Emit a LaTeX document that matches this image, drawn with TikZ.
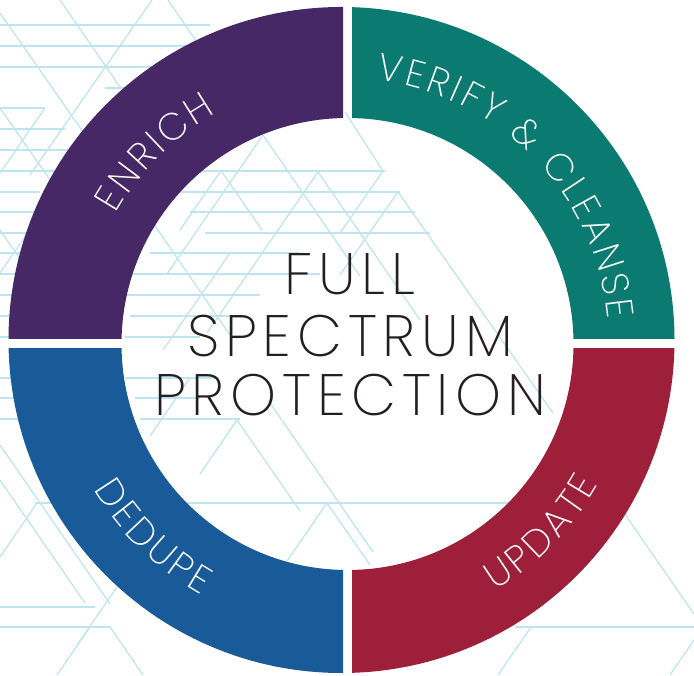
\documentclass[tikz,border=0pt]{standalone}
\usepackage{fontspec}
\setmainfont{Poppins ExtraLight}
\usetikzlibrary{decorations.text}

\definecolor{enrichpurple}{HTML}{472866}
\definecolor{verifyteal}{HTML}{0B7A70}
\definecolor{updatered}{HTML}{9E1F3A}
\definecolor{dedupeblue}{HTML}{195B99}
\definecolor{gridblue}{HTML}{BEE4F0}
\definecolor{titleink}{HTML}{231F20}

\newcommand\ringfont{\fontsize{27}{30}\selectfont}
\newcommand\rk{\kern2.3pt}

\tikzset{
  bgline/.style = {draw=gridblue, line width=0.9pt},
  title/.style = {font=\fontsize{41.5}{43}\selectfont\addfontfeature{LetterSpace=10},
                  text=titleink, anchor=base, inner sep=0pt},
  ringtext/.style = {decorate, decoration={text along path, text align=center,
                     text color=white, text={|\ringfont|#1}}}
}

\begin{document}
\begin{tikzpicture}[x=0.025cm, y=0.025cm]
  \useasboundingbox (0,0) rectangle (694,675);

  % triangle pattern behind the ring (pixel coordinates, y down)
  \begin{scope}[shift={(0,675)}, yscale=-1]
    \foreach \y/\a/\b in {25/0/210, 46/0/200, 67/0/190, 88/105/215,
        108/0/45, 129/0/65, 150/0/85, 171/0/60, 171/190/385, 192/0/40, 192/175/400,
        212/0/60, 212/190/415, 233/0/40, 233/205/430, 253/0/30, 253/150/300,
        274/0/20, 274/130/320, 295/0/20, 295/125/260, 316/0/20, 316/130/240,
        337/0/20, 337/125/200, 378/0/20, 378/125/215, 398/0/20, 398/135/200,
        419/0/25, 419/140/240, 503/35/510, 607/0/95, 627/0/110, 627/515/694}
      \draw[bgline] (\a,\y) -- (\b,\y);
    \foreach \a/\b/\c/\d in {0/13/118/182, 60/0/160/145, 168/0/230/90,
        152/0/30/175, 0/108/110/266, 45/108/0/173, 85/150/0/273,
        0/230/40/288, 60/212/20/270,
        345/112/383/171, 383/171/340/233, 398/192/340/275, 398/192/553/413,
        263/135/167/274, 263/135/360/276, 318/172/207/333, 318/172/420/320,
        153/223/230/335, 230/253/163/350, 220/172/180/230, 222/172/262/230,
        237/420/200/474, 237/420/300/511, 268/400/373/552,
        327/503/287/561, 327/503/370/565, 190/378/150/436,
        0/445/110/604, 0/480/85/603, 37/503/0/557, 110/627/143/675,
        90/627/57/675, 117/587/77/645,
        624/513/694/614, 531/627/498/675, 694/640/670/675}
      \draw[bgline] (\a,\b) -- (\c,\d);
  \end{scope}

  % the four quarters of the ring
  \foreach \col/\xa/\ya/\xb/\yb in {enrichpurple/0/336/343/675,
      verifyteal/352/336/694/675, updatered/352/0/694/326,
      dedupeblue/0/0/343/326} {
    \begin{scope}
      \clip (\xa,\ya) rectangle (\xb,\yb);
      \fill[\col, even odd rule] (341.5,335) circle[radius=333]
                                 (347.5,331) circle[radius=226];
    \end{scope}
  }

  % labels on the ring
  \coordinate (hub) at (344.5,333);
  \path[ringtext={E{\rk}N{\rk}R{\rk}I{\rk}C{\rk}H}] ([shift={(166:262)}]hub)
    arc[start angle=166, end angle=104, radius=262];
  \path[ringtext={V{\rk}E{\rk}R{\rk}I{\rk}F{\rk}Y{\rk} {\rk}{\&}{\rk} {\rk}C{\rk}L{\rk}E{\rk}A{\rk}N{\rk}S{\rk}E}]
    ([shift={(100:264)}]hub) arc[start angle=100, end angle=-12, radius=264];
  \path[ringtext={D{\rk}E{\rk}D{\rk}U{\rk}P{\rk}E}] ([shift={(188:291)}]hub)
    arc[start angle=188, end angle=263, radius=291];
  \path[ringtext={U{\rk}P{\rk}D{\rk}A{\rk}T{\rk}E}] ([shift={(278:291)}]hub)
    arc[start angle=278, end angle=354, radius=291];

  % title in the middle
  \node[title] (full) at (350,380) {FULL};
  \node[title] (spectrum) at (350,318) {SPECTRUM};
  \node[title] (protection) at (350,259) {PROTECTION};
\end{tikzpicture}
\end{document}
